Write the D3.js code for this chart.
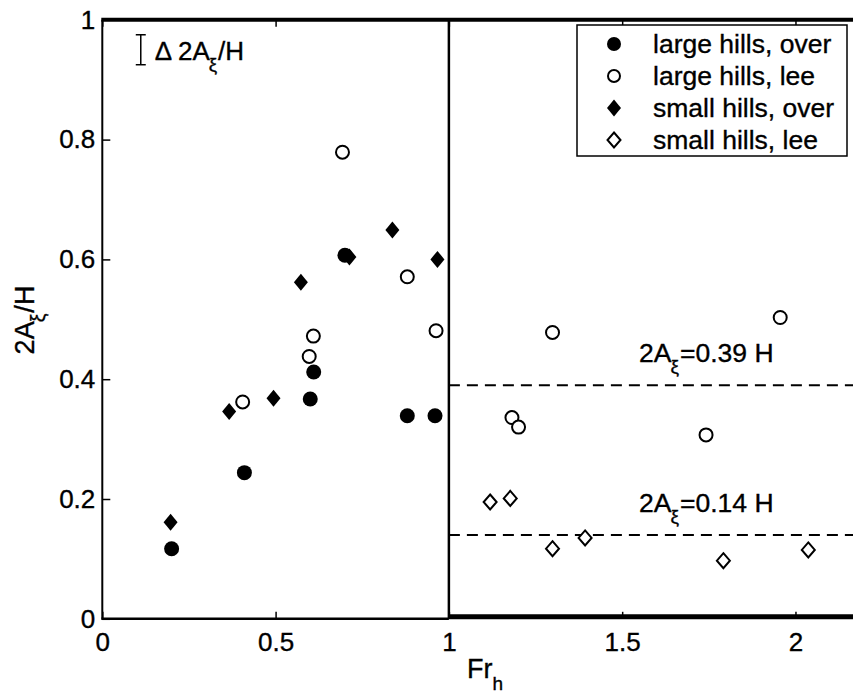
<!DOCTYPE html>
<html>
<head>
<meta charset="utf-8">
<script src="https://cdn.jsdelivr.net/npm/d3@7"></script>
<style>
  body { margin: 0; background: #fff; }
  svg { display: block; }
  text { font-family: "Liberation Sans", Arial, Helvetica, sans-serif; fill: #000; stroke: #000; stroke-width: 0.35px; }
</style>
</head>
<body>
<svg id="chart" width="853" height="693"></svg>
<script>
// Oscillation amplitude 2A_xi/H versus hill Froude number Fr_h
const largeOverFr  = [0.20, 0.41, 0.60, 0.61, 0.70, 0.88, 0.96];
const largeOverAmp = [0.117, 0.244, 0.367, 0.412, 0.607, 0.339, 0.339];

const largeLeeFr  = [0.405, 0.597, 0.609, 0.693, 0.880, 0.963, 1.182, 1.201, 1.299, 1.742, 1.956];
const largeLeeAmp = [0.362, 0.438, 0.472, 0.779, 0.571, 0.481, 0.336, 0.320, 0.478, 0.307, 0.503];

const smallOverFr  = [0.197, 0.366, 0.494, 0.573, 0.713, 0.837, 0.967];
const smallOverAmp = [0.161, 0.346, 0.368, 0.562, 0.604, 0.649, 0.600];

const smallLeeFr  = [1.119, 1.177, 1.299, 1.393, 1.792, 2.037];
const smallLeeAmp = [0.195, 0.201, 0.117, 0.135, 0.097, 0.115];

// mean lee-wave amplitudes for Fr_h > 1
const refLevels = [0.39, 0.14];
const refLabels = ["0.39 H", "0.14 H"];

const xTicks = [0, 0.5, 1, 1.5, 2];
const yTicks = [0, 0.2, 0.4, 0.6, 0.8, 1];
const legendLabels = ["large hills, over", "large hills, lee", "small hills, over", "small hills, lee"];

// typical measurement uncertainty of 2A_xi/H
const errBar = { fr: 0.111, lo: 0.925, hi: 0.975 };

const W = 853, H = 693;
const svg = d3.select("#chart");
const x = d3.scaleLinear().domain([0, 2.166]).range([102.3, 853]);
const y = d3.scaleLinear().domain([0, 1]).range([618.8, 19.8]);
const FS = 26;

function diamondPath(hw, hh) {
  return `M0,${-hh}L${hw},0L0,${hh}L${-hw},0Z`;
}

// write text with a subscript xi after the leading "2A"
function subText(sel, before, sub, after, size) {
  sel.append("tspan").text(before);
  sel.append("tspan").attr("font-size", size * 0.72).attr("dy", size * 0.42).attr("dx", -1).text(sub);
  sel.append("tspan").attr("dy", -size * 0.42).attr("dx", 1).text(after);
  return sel;
}

// ---- axes (ticks and labels) ----
const yAxis = d3.axisLeft(y).tickValues(yTicks).tickSize(-8).tickPadding(7)
  .tickFormat(d3.format("~g"));
const gy = svg.append("g").attr("transform", `translate(${x(0)},0)`).call(yAxis);
gy.select(".domain").remove();
gy.selectAll("text").attr("font-size", FS).attr("font-family", null);
gy.selectAll("line").attr("stroke-width", 1.5);

const xAxis = d3.axisBottom(x).tickValues(xTicks).tickSize(-7).tickPadding(14)
  .tickFormat(d3.format("~g"));
const gx = svg.append("g").attr("transform", `translate(0,${y(0)})`).call(xAxis);
gx.select(".domain").remove();
gx.selectAll("text").attr("font-size", FS).attr("font-family", null);
gx.selectAll("line").attr("stroke-width", 1.5);

const xTop = d3.axisTop(x).tickValues(xTicks).tickSize(-7).tickFormat("");
const gt = svg.append("g").attr("transform", `translate(0,${y(1)})`).call(xTop);
gt.select(".domain").remove();
gt.selectAll("line").attr("stroke-width", 1.5);

// ---- frame ----
const frame = svg.append("g").attr("stroke", "#000").attr("fill", "none");
frame.append("line").attr("x1", x(0)).attr("x2", x(0)).attr("y1", y(1)).attr("y2", y(0)).attr("stroke-width", 2);
frame.append("line").attr("x1", x(0) - 1).attr("x2", W).attr("y1", y(1)).attr("y2", y(1)).attr("stroke-width", 4);
frame.append("line").attr("x1", x(1)).attr("x2", x(1)).attr("y1", y(1)).attr("y2", y(0)).attr("stroke-width", 2.5);
frame.append("line").attr("x1", x(0) - 1).attr("x2", x(1)).attr("y1", y(0)).attr("y2", y(0)).attr("stroke-width", 2.5);
frame.append("line").attr("x1", x(1)).attr("x2", W).attr("y1", y(0) - 2).attr("y2", y(0) - 2).attr("stroke-width", 5);

// ---- reference levels ----
refLevels.forEach((v, i) => {
  svg.append("line")
    .attr("x1", x(1)).attr("x2", W).attr("y1", y(v)).attr("y2", y(v))
    .attr("stroke", "#000").attr("stroke-width", 2).attr("stroke-dasharray", "11,7");
  const t = svg.append("text").attr("x", 639).attr("y", y(v) - 23).attr("font-size", FS + 0.5);
  subText(t, "2A", "ξ", "=" + refLabels[i], FS + 0.5);
});

// ---- data ----
const pts = (fr, amp) => fr.map((f, i) => ({ fr: f, amp: amp[i] }));

svg.append("g").selectAll("circle").data(pts(largeLeeFr, largeLeeAmp)).join("circle")
  .attr("cx", d => x(d.fr)).attr("cy", d => y(d.amp)).attr("r", 6.5)
  .attr("fill", "#fff").attr("stroke", "#000").attr("stroke-width", 2);

svg.append("g").selectAll("path").data(pts(smallLeeFr, smallLeeAmp)).join("path")
  .attr("transform", d => `translate(${x(d.fr)},${y(d.amp)})`)
  .attr("d", diamondPath(6.5, 7.5))
  .attr("fill", "#fff").attr("stroke", "#000").attr("stroke-width", 2);

svg.append("g").selectAll("circle").data(pts(largeOverFr, largeOverAmp)).join("circle")
  .attr("cx", d => x(d.fr)).attr("cy", d => y(d.amp)).attr("r", 7.5).attr("fill", "#000");

svg.append("g").selectAll("path").data(pts(smallOverFr, smallOverAmp)).join("path")
  .attr("transform", d => `translate(${x(d.fr)},${y(d.amp)})`)
  .attr("d", diamondPath(7, 8.5)).attr("fill", "#000");

// ---- uncertainty marker ----
const eb = svg.append("g").attr("stroke", "#000").attr("stroke-width", 1.5);
const ex = x(errBar.fr);
eb.append("line").attr("x1", ex).attr("x2", ex).attr("y1", y(errBar.hi)).attr("y2", y(errBar.lo));
eb.append("line").attr("x1", ex - 5).attr("x2", ex + 5).attr("y1", y(errBar.hi)).attr("y2", y(errBar.hi));
eb.append("line").attr("x1", ex - 5).attr("x2", ex + 5).attr("y1", y(errBar.lo)).attr("y2", y(errBar.lo));
const et = svg.append("text").attr("x", ex + 14).attr("y", 60).attr("font-size", FS);
subText(et, "Δ 2A", "ξ", "/H", FS);

// ---- axis titles ----
const xt = svg.append("text").attr("x", 467).attr("y", 678).attr("font-size", FS + 1);
xt.append("tspan").text("Fr");
xt.append("tspan").attr("font-size", 19).attr("dy", 12).text("h");

const yt = svg.append("text").attr("transform", "translate(34,320) rotate(-90)")
  .attr("text-anchor", "middle").attr("font-size", FS + 1);
subText(yt, "2A", "ξ", "/H", FS + 1);

// ---- legend ----
const lg = svg.append("g");
lg.append("rect").attr("x", 577).attr("y", 25).attr("width", 270).attr("height", 131)
  .attr("fill", "#fff").attr("stroke", "#000").attr("stroke-width", 1.5);
legendLabels.forEach((lab, i) => {
  const cy = 44 + i * 32, cx = 614;
  if (i === 0) lg.append("circle").attr("cx", cx).attr("cy", cy).attr("r", 7).attr("fill", "#000");
  if (i === 1) lg.append("circle").attr("cx", cx).attr("cy", cy).attr("r", 6).attr("fill", "#fff").attr("stroke", "#000").attr("stroke-width", 2);
  if (i === 2) lg.append("path").attr("transform", `translate(${cx},${cy})`).attr("d", diamondPath(7, 8.5)).attr("fill", "#000");
  if (i === 3) lg.append("path").attr("transform", `translate(${cx},${cy})`).attr("d", diamondPath(6.5, 7.5)).attr("fill", "#fff").attr("stroke", "#000").attr("stroke-width", 2);
  lg.append("text").attr("x", 653).attr("y", cy + 9).attr("font-size", FS + 0.5).text(lab);
});
</script>
</body>
</html>
